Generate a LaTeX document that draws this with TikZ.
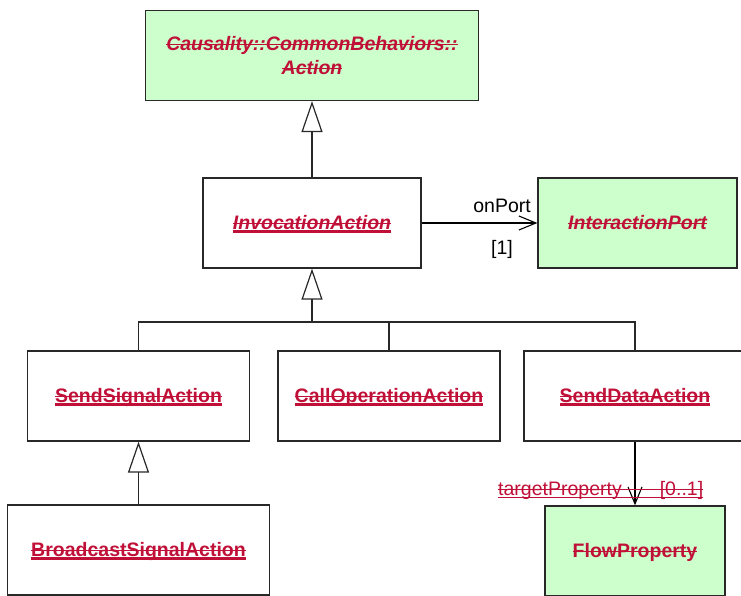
\documentclass[tikz,border=0pt]{standalone}
\usepackage{fontspec}
\setmainfont{Liberation Sans}
\usetikzlibrary{arrows.meta}
\definecolor{umlred}{RGB}{192,16,56}
\definecolor{umlgreen}{RGB}{204,255,204}
\definecolor{umlline}{RGB}{40,40,40}
\newcommand\mystrk[1]{\setbox0\hbox{#1}\rlap{\rule[5pt]{\wd0}{1.3pt}}\box0}
\newcommand\mystrkul[1]{\setbox0\hbox{#1}\rlap{\rule[5pt]{\wd0}{1.3pt}}\rlap{\rule[-3.6pt]{\wd0}{2.4pt}}\box0}
\newcommand\mystrkulthin[1]{\setbox0\hbox{#1}\rlap{\rule[5pt]{\wd0}{1pt}}\rlap{\rule[-3.3pt]{\wd0}{1.3pt}}\box0}
\newcommand\lblfont{\fontsize{19.5pt}{24pt}\selectfont}
\begin{document}
\begin{tikzpicture}[x=1pt,y=-1pt,
  classbox/.style={draw=umlline, line width=1.3pt, inner sep=0pt, text=umlred,
    minimum height=90pt, font=\lblfont\bfseries, text height=12pt, text depth=0pt},
  greenbox/.style={classbox, fill=umlgreen},
  genarrow/.style={draw=umlline, line width=1.2pt, -{Triangle[open, length=31pt, width=21pt]}},
  treeline/.style={draw=umlline, line width=1.2pt},
  assoc/.style={draw=black, line width=1.1pt, -{Straight Barb[length=17pt, width=14pt]}},
  lbl/.style={inner sep=0pt, font=\lblfont}]
\useasboundingbox (0,0) rectangle (741,596);
\fill[white] (0,0) rectangle (741,596);

\node[greenbox, minimum width=333pt, align=center, font=\lblfont\bfseries\itshape,
      text height=, text depth=] (act) at (312,55.5)
  {\mystrk{Causality::CommonBehaviors::}\\\mystrk{Action}};
\node[classbox, minimum width=218pt, font=\lblfont\bfseries\itshape] (inv) at (312,223)
  {\mystrkul{InvocationAction}};
\node[greenbox, minimum width=199pt, font=\lblfont\bfseries\itshape] (ip) at (637.5,223)
  {\mystrk{InteractionPort}};
\node[classbox, minimum width=222pt] (ssa) at (138.5,396) {\mystrkul{SendSignalAction}};
\node[classbox, minimum width=222pt] (coa) at (389,396) {\mystrkul{CallOperationAction}};
\node[classbox, minimum width=222pt] (sda) at (635,396) {\mystrkul{SendDataAction}};
\node[classbox, minimum width=262pt] (bsa) at (138.5,550) {\mystrkul{BroadcastSignalAction}};
\node[greenbox, minimum width=180pt] (fp) at (635,551) {\mystrk{FlowProperty}};

\coordinate (busC) at (312,322);
\draw[genarrow] (inv.north) -- (act.south);
\draw[genarrow] (busC) -- (inv.south);
\draw[treeline] (ssa.north) |- (busC) -| (sda.north);
\draw[treeline] (coa.north) -- (coa.north |- busC);
\draw[genarrow] (bsa.north) -- (ssa.south);
\draw[assoc] (inv.east) -- (ip.west);
\draw[assoc] (sda.south) -- (fp.north);

\node[lbl, anchor=base east] (onport) at (531,212) {onPort};
\node[lbl, anchor=base east] (mult1) at (513,254) {[1]};
\node[lbl, text=umlred, anchor=base west] (tp) at (498,495)
  {\mystrkulthin{\hbox to 205pt{targetProperty\hfill[0..1]}}};
\end{tikzpicture}
\end{document}
